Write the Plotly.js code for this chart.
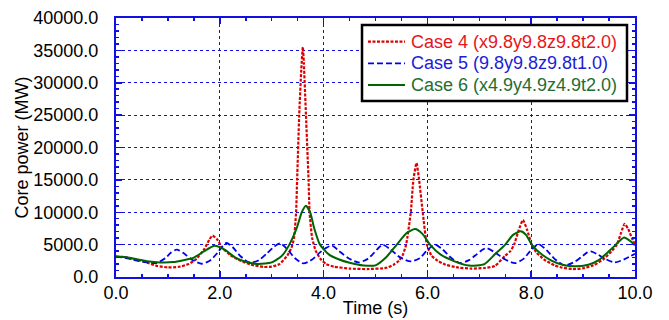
<!DOCTYPE html>
<html>
<head>
<meta charset="utf-8">
<script src="https://cdn.plot.ly/plotly-3.0.1.min.js"></script>
<style>
html,body{margin:0;padding:0;background:#fff;}
#chart{width:669px;height:320px;}
</style>
</head>
<body>
<div id="chart"></div>
<script>
// Case 4 (x9.8y9.8z9.8t2.0)
const case4Time = [0,0.2,0.4,0.6,0.8,1.0,1.2,1.4,1.55,1.7,1.8,1.86,1.95,2.05,2.2,2.4,2.6,2.85,3.0,3.15,3.3,3.38,3.43,3.47,3.49,3.53,3.57,3.6,3.62,3.66,3.71,3.73,3.78,3.85,3.95,4.05,4.2,4.5,4.85,5.2,5.35,5.45,5.52,5.59,5.68,5.73,5.79,5.84,5.91,5.99,6.08,6.2,6.35,6.6,6.85,7.1,7.3,7.5,7.6,7.67,7.75,7.84,7.92,8.01,8.1,8.25,8.45,8.6,8.8,9.0,9.2,9.4,9.55,9.65,9.73,9.8,9.87,9.94,10.0];
const case4Power = [3150,3050,2700,2200,1700,1480,1550,2000,2800,4300,5800,6400,5800,4500,3400,2500,1900,1550,1600,2000,3300,4500,6000,10000,15000,25000,32000,35500,33000,25000,15000,10000,6000,4000,2700,2000,1600,1300,1230,1400,1900,2500,3300,5000,10000,15000,17600,15000,10000,5000,3300,2500,1900,1450,1300,1390,1700,3300,4000,5000,7000,8800,7300,5000,3800,2700,1800,1450,1230,1350,1800,2800,4000,5000,6800,8200,7400,6000,5000];

// Case 5 (9.8y9.8z9.8t1.0)
const case5Time = [0,0.15,0.3,0.45,0.6,0.78,0.95,1.05,1.17,1.3,1.45,1.65,1.82,1.95,2.05,2.13,2.25,2.4,2.58,2.75,2.9,3.05,3.16,3.3,3.45,3.61,3.78,3.93,4.05,4.16,4.3,4.48,4.67,4.85,4.98,5.07,5.14,5.28,5.48,5.68,5.85,5.98,6.08,6.15,6.3,6.45,6.63,6.8,6.95,7.06,7.14,7.3,7.5,7.69,7.85,7.98,8.07,8.14,8.3,8.45,8.65,8.85,9.0,9.08,9.15,9.3,9.45,9.61,9.8,10.0];
const case5Power = [3150,3000,2750,2450,2250,2150,2900,3700,4230,3700,2750,2050,2600,3700,4700,5250,4600,3200,2200,2600,3600,4700,5200,4300,2900,2100,2700,3800,4500,4850,4000,2900,2250,2800,3800,4600,5000,4300,3000,2400,2900,4000,4700,5000,4200,3000,2150,2600,3500,4200,4470,3800,2700,2150,2800,4000,4700,5100,4100,2800,1800,2400,3300,3800,3950,3400,2700,2250,2750,3600];

// Case 6 (x4.9y4.9z4.9t2.0)
const case6Time = [0,0.2,0.4,0.6,0.85,1.1,1.3,1.5,1.7,1.9,2.1,2.3,2.5,2.74,3.0,3.2,3.34,3.48,3.58,3.66,3.74,3.82,3.93,4.1,4.3,4.5,4.77,5.0,5.2,5.41,5.6,5.76,5.9,6.05,6.25,6.5,6.8,7.1,7.3,7.5,7.65,7.8,7.9,8.01,8.2,8.4,8.6,8.84,9.1,9.3,9.5,9.63,9.79,9.9,10.0];
const case6Power = [3150,3050,2750,2450,2250,2300,2600,3000,4000,4830,4200,3000,2350,2000,2250,3300,5000,7500,10000,11000,10000,7500,5000,3500,2700,2200,1780,1800,3000,5000,6800,7400,6700,5000,3500,2500,1760,2000,3500,5000,6500,7050,6500,5000,3500,2500,1900,1650,1900,2600,4000,5000,6100,5600,4900];

const seriesNames = ['Case 4 (x9.8y9.8z9.8t2.0)', 'Case 5 (9.8y9.8z9.8t1.0)', 'Case 6 (x4.9y4.9z4.9t2.0)'];
const xTickLabels = ['0.0','2.0','4.0','6.0','8.0','10.0'];
const xTickVals = [0,2,4,6,8,10];

const lineColors = ['#dd0000', '#0000ee', '#006400'];
const textColors = ['#e8141b', '#1c1cd6', '#1e6e30'];
const lineDashes = ['3px,1.5px', '6px,3px', 'solid'];
const lineWidths = [2.2, 1.8, 2];
const smooth = [0.5, 0.7, 0.6];

const axisBlue = '#1010e0';
const FONT = 'Liberation Sans, Arial, sans-serif';
const xs = [case4Time, case5Time, case6Time];
const ys = [case4Power, case5Power, case6Power];
const traces = xs.map((x, i) => ({
  x: x, y: ys[i], name: seriesNames[i], mode: 'lines', showlegend: false,
  line: {color: lineColors[i], width: lineWidths[i], dash: lineDashes[i], shape: 'spline', smoothing: smooth[i]}
}));

// Legend drawn in paper coordinates (box, line samples, coloured labels)
const legendBox = {x0: 0.474, x1: 0.9846, y0: 0.6795, y1: 0.973};
const legendRows = [0.9085, 0.8251, 0.7413];
const shapes = [{type: 'rect', xref: 'paper', yref: 'paper', x0: legendBox.x0, x1: legendBox.x1,
  y0: legendBox.y0, y1: legendBox.y1, line: {color: '#000', width: 2.5}, fillcolor: '#fff', layer: 'above'}];
const annotations = [];
legendRows.forEach((ry, i) => {
  shapes.push({type: 'line', xref: 'paper', yref: 'paper', x0: 0.4855, x1: 0.5568, y0: ry, y1: ry,
    line: {color: lineColors[i], width: lineWidths[i], dash: lineDashes[i]}, layer: 'above'});
  annotations.push({xref: 'paper', yref: 'paper', x: 0.5645, y: ry, xanchor: 'left', yanchor: 'middle',
    text: seriesNames[i], showarrow: false, font: {family: FONT, size: 18, color: textColors[i]}});
});

const axisCommon = {
  showline: true, linecolor: axisBlue, linewidth: 2, mirror: 'ticks',
  ticks: 'inside', tickcolor: axisBlue, ticklen: 6, tickwidth: 1.5,
  showgrid: true, gridcolor: axisBlue, griddash: 'dot', gridwidth: 1,
  zeroline: false, tickfont: {family: FONT, size: 18, color: '#000'},
};

const layout = {
  width: 669, height: 320,
  margin: {l: 116, r: 34, t: 18, b: 43},
  paper_bgcolor: '#fff', plot_bgcolor: '#fff',
  showlegend: false,
  font: {family: FONT, size: 18, color: '#000'},
  xaxis: Object.assign({}, axisCommon, {
    range: [0, 10], tickvals: xTickVals, ticktext: xTickLabels,
    ticklabelstandoff: -2,
    minor: {dtick: 0.5, tick0: 0, ticks: 'inside', ticklen: 3, tickcolor: axisBlue, tickwidth: 1.5, showgrid: false},
    title: {text: 'Time (s)', font: {size: 18}, standoff: 0}
  }),
  yaxis: Object.assign({}, axisCommon, {
    range: [0, 40000], dtick: 5000, tickformat: '.1f',
    ticklabelstandoff: 12,
    minor: {dtick: 1000, ticks: 'inside', ticklen: 3, tickcolor: axisBlue, tickwidth: 1.5, showgrid: false},
    title: {text: 'Core power (MW)', font: {size: 18}, standoff: 0}
  }),
  shapes: shapes,
  annotations: annotations
};

Plotly.newPlot('chart', traces, layout, {staticPlot: true, displayModeBar: false});
</script>
</body>
</html>
